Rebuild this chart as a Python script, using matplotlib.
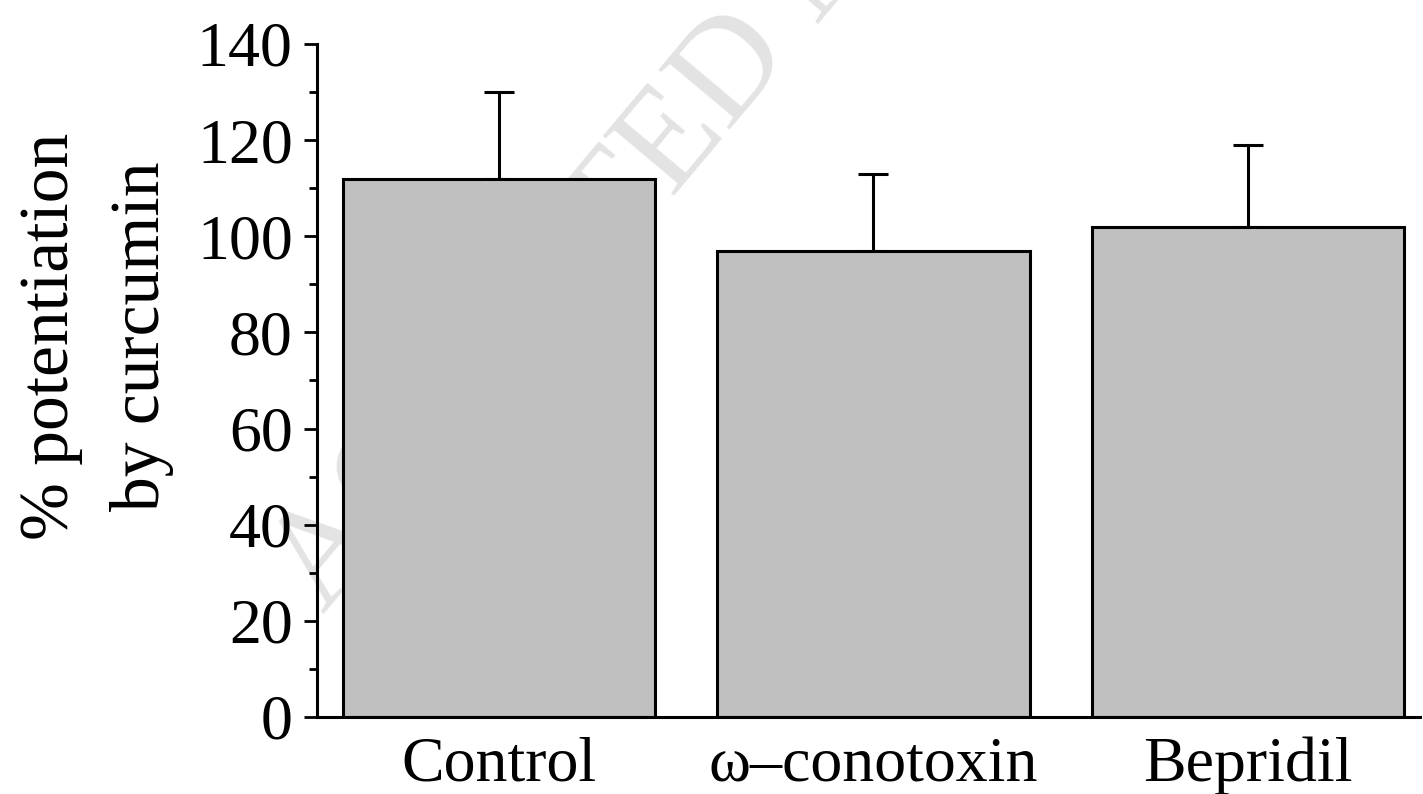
import numpy as np
import matplotlib
matplotlib.use("Agg")
import matplotlib.pyplot as plt
from matplotlib.ticker import MultipleLocator

# datos
categories = ["Control", "\u03c9\u2013conotoxin", "Bepridil"]
values = [112, 97, 102]
errors_up = [18, 16, 17]

plt.rcParams['font.family'] = ['Liberation Serif', 'DejaVu Serif']

fig = plt.figure(figsize=(14.23, 7.94), dpi=100)
ax = fig.add_axes([0.2228, 0.097, 0.7752, 0.8476])

x = np.arange(len(categories))
ax.bar(x, values, width=0.834, color='#c0c0c0', edgecolor='black',
       linewidth=2.2, zorder=2)
ax.errorbar(x, values, yerr=[np.zeros(len(values)), errors_up], fmt='none',
            ecolor='black', elinewidth=2.2, capsize=11, capthick=2.2, zorder=1.5)

# marca de agua de fondo (queda detras de las barras)
ax.text(0.227, 0.226, "ACCEPTED MANUSCRIPT", transform=fig.transFigure,
        rotation=50, rotation_mode='anchor', ha='left', va='baseline',
        fontsize=102, color='#e3e3e3', zorder=0.5, clip_on=False)

ax.set_xlim(-0.487, 2.461)
ax.set_ylim(0, 140)
ax.set_xticks(x)
ax.set_xticklabels(categories, fontsize=46)
ax.yaxis.set_major_locator(MultipleLocator(20))
ax.yaxis.set_minor_locator(MultipleLocator(10))
ax.tick_params(axis='y', which='major', length=9.5, width=2.0, labelsize=46, pad=8)
ax.tick_params(axis='y', which='minor', length=5.5, width=2.0)
ax.tick_params(axis='x', length=0, pad=14)

for side in ['top', 'right']:
    ax.spines[side].set_visible(False)
for side in ['left', 'bottom']:
    ax.spines[side].set_linewidth(2.2)

ax.set_ylabel("% potentiation\nby curcumin", fontsize=50, linespacing=1.55,
              va='center', ha='center')
ax.yaxis.set_label_coords(-0.2, 0.566)

fig.savefig("out.png", dpi=100)
